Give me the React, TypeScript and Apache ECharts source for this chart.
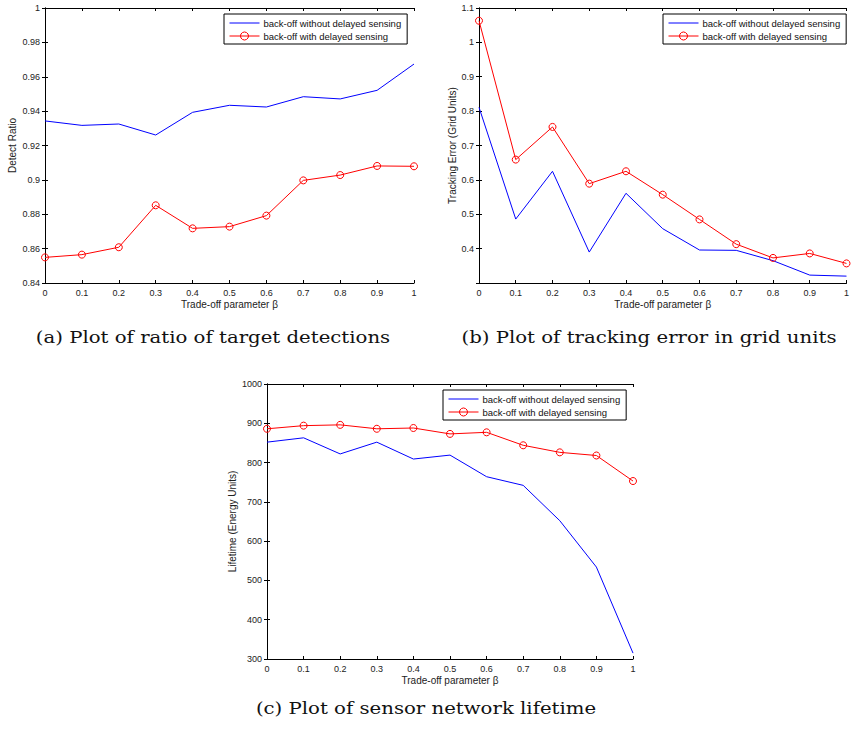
import React, { useEffect, useRef } from "react";
import * as echarts from "echarts";

const betaValues = [0, 0.1, 0.2, 0.3, 0.4, 0.5, 0.6, 0.7, 0.8, 0.9, 1];

const seriesNames = ["back-off without delayed sensing", "back-off with delayed sensing"];

// (a) Detect ratio
const detectWithout = [0.9343, 0.9317, 0.9325, 0.9261, 0.9393, 0.9434, 0.9424, 0.9484, 0.9471, 0.9521, 0.9674];
const detectWith = [0.8549, 0.8565, 0.8608, 0.8852, 0.8718, 0.8728, 0.8792, 0.8997, 0.9028, 0.9081, 0.9079];

// (b) Tracking error
const trackWithout = [0.811, 0.486, 0.625, 0.39, 0.561, 0.458, 0.396, 0.395, 0.365, 0.323, 0.32];
const trackWith = [1.063, 0.659, 0.754, 0.589, 0.625, 0.557, 0.485, 0.413, 0.373, 0.386, 0.357];

// (c) Lifetime
const lifeWithout = [852, 863, 822, 852, 809, 819, 764, 742, 652, 534, 315];
const lifeWith = [886, 894, 896, 886, 888, 873, 877, 844, 826, 818, 753];

const xAxisName = "Trade-off parameter β";
const yAxisNames = ["Detect Ratio", "Tracking Error (Grid Units)", "Lifetime (Energy Units)"];
const captions = [
  "(a) Plot of ratio of target detections",
  "(b) Plot of tracking error in grid units",
  "(c) Plot of sensor network lifetime",
];

const yRanges = [
  { min: 0.84, max: 1, interval: 0.02 },
  { min: 0.3, max: 1.1, interval: 0.1 },
  { min: 300, max: 1000, interval: 100 },
];

const BLUE = "#0000ff";
const RED = "#ff0000";
const AX = "#000000";
const FONT = "'Liberation Sans', Arial, Helvetica, sans-serif";

const fmt = (v: number) => String(+Number(v).toFixed(4));

export default function App() {
  const ref = useRef<HTMLDivElement>(null);

  useEffect(() => {
    if (!ref.current) return;
    const chart = echarts.init(ref.current, undefined, { renderer: "svg" });

    const grids = [
      { left: 45, top: 8, width: 369, height: 275 },
      { left: 479, top: 8, width: 372, height: 275 },
      { left: 267, top: 384, width: 366, height: 275 },
    ];
    const yNameGaps = [28, 22, 30];
    const legendPos = [
      { left: 224, top: 14 },
      { left: 663, top: 14 },
      { left: 443, top: 390 },
    ];
    const data = [
      [detectWithout, detectWith],
      [trackWithout, trackWith],
      [lifeWithout, lifeWith],
    ];

    const xAxes: any[] = [];
    const yAxes: any[] = [];
    const series: any[] = [];
    const legends: any[] = [];

    grids.forEach((g, gi) => {
      const tick = { show: true, inside: true, length: 3, lineStyle: { color: AX, width: 1 } };
      const line = { show: true, lineStyle: { color: AX, width: 1 } };
      xAxes.push({
        type: "value",
        gridIndex: gi,
        position: "bottom",
        min: 0,
        max: 1,
        interval: 0.1,
        axisLine: line,
        axisTick: tick,
        splitLine: { show: false },
        axisLabel: { color: "#222", fontSize: 9, fontFamily: FONT, margin: 5, formatter: fmt },
        name: xAxisName,
        nameLocation: "middle",
        nameGap: 16,
        nameTextStyle: { color: "#222", fontSize: 10, fontFamily: FONT },
      });
      xAxes.push({
        type: "value",
        gridIndex: gi,
        position: "top",
        min: 0,
        max: 1,
        interval: 0.1,
        axisLine: line,
        axisTick: tick,
        splitLine: { show: false },
        axisLabel: { show: false },
      });
      const yr = yRanges[gi];
      yAxes.push({
        type: "value",
        gridIndex: gi,
        position: "left",
        min: yr.min,
        max: yr.max,
        interval: yr.interval,
        axisLine: line,
        axisTick: tick,
        splitLine: { show: false },
        axisLabel: {
          color: "#222",
          fontSize: 9,
          fontFamily: FONT,
          margin: 5,
          formatter: fmt,
          showMinLabel: gi !== 1,
        },
        name: yAxisNames[gi],
        nameLocation: "middle",
        nameRotate: 90,
        nameGap: yNameGaps[gi],
        nameTextStyle: { color: "#222", fontSize: 10, fontFamily: FONT },
      });
      yAxes.push({
        type: "value",
        gridIndex: gi,
        position: "right",
        min: yr.min,
        max: yr.max,
        interval: yr.interval,
        axisLine: line,
        axisTick: tick,
        splitLine: { show: false },
        axisLabel: { show: false },
      });

      const [without, withD] = data[gi];
      series.push({
        name: seriesNames[0],
        type: "line",
        xAxisIndex: gi * 2,
        yAxisIndex: gi * 2,
        data: betaValues.map((x, i) => [x, without[i]]),
        showSymbol: false,
        symbol: "none",
        lineStyle: { color: BLUE, width: 1 },
        itemStyle: { color: BLUE },
        z: 3,
      });
      series.push({
        name: seriesNames[1],
        type: "line",
        xAxisIndex: gi * 2,
        yAxisIndex: gi * 2,
        data: betaValues.map((x, i) => [x, withD[i]]),
        symbol: "circle",
        symbolSize: 7,
        lineStyle: { color: RED, width: 1 },
        itemStyle: { color: "rgba(255,255,255,0)", borderColor: RED, borderWidth: 1 },
        z: 4,
      });

      legends.push({
        show: true,
        orient: "vertical",
        left: legendPos[gi].left,
        top: legendPos[gi].top,
        data: [
          { name: seriesNames[0], itemStyle: { opacity: 0, borderWidth: 0 }, lineStyle: { color: BLUE, width: 1 } },
          { name: seriesNames[1], itemStyle: { borderWidth: 1 }, lineStyle: { color: RED, width: 1 } },
        ],
        lineStyle: { width: 1 },
        itemStyle: { borderWidth: 1 },
        backgroundColor: "#ffffff",
        borderColor: "#000",
        borderWidth: 1,
        borderRadius: 0,
        padding: [4, 6, 3, 5],
        itemGap: 3,
        itemWidth: 30,
        itemHeight: 10,
        selectedMode: false,
        textStyle: { color: "#111", fontSize: 9.5, fontFamily: FONT, padding: [0, 0, 0, -1] },
        z: 10,
      });
    });

    const captionPos = [
      { x: 213, y: 337 },
      { x: 649, y: 337 },
      { x: 426, y: 708 },
    ];
    const graphics = captions.map((c, i) => ({
      type: "text",
      x: captionPos[i].x,
      y: captionPos[i].y,
      scaleY: 0.82,
      style: {
        text: c,
        fill: "#111",
        font: "19.7px 'DejaVu Serif', 'Liberation Serif', serif",
        textAlign: "center",
        textVerticalAlign: "middle",
      },
    }));

    chart.setOption({
      animation: false,
      backgroundColor: "#ffffff",
      grid: grids.map((g) => ({ ...g, containLabel: false })),
      xAxis: xAxes,
      yAxis: yAxes,
      legend: legends,
      series,
      graphic: graphics,
    });

    return () => chart.dispose();
  }, []);

  return (
    <div
      ref={ref}
      style={{ position: "absolute", left: 0, top: 0, width: 852, height: 729, background: "#fff" }}
    />
  );
}
